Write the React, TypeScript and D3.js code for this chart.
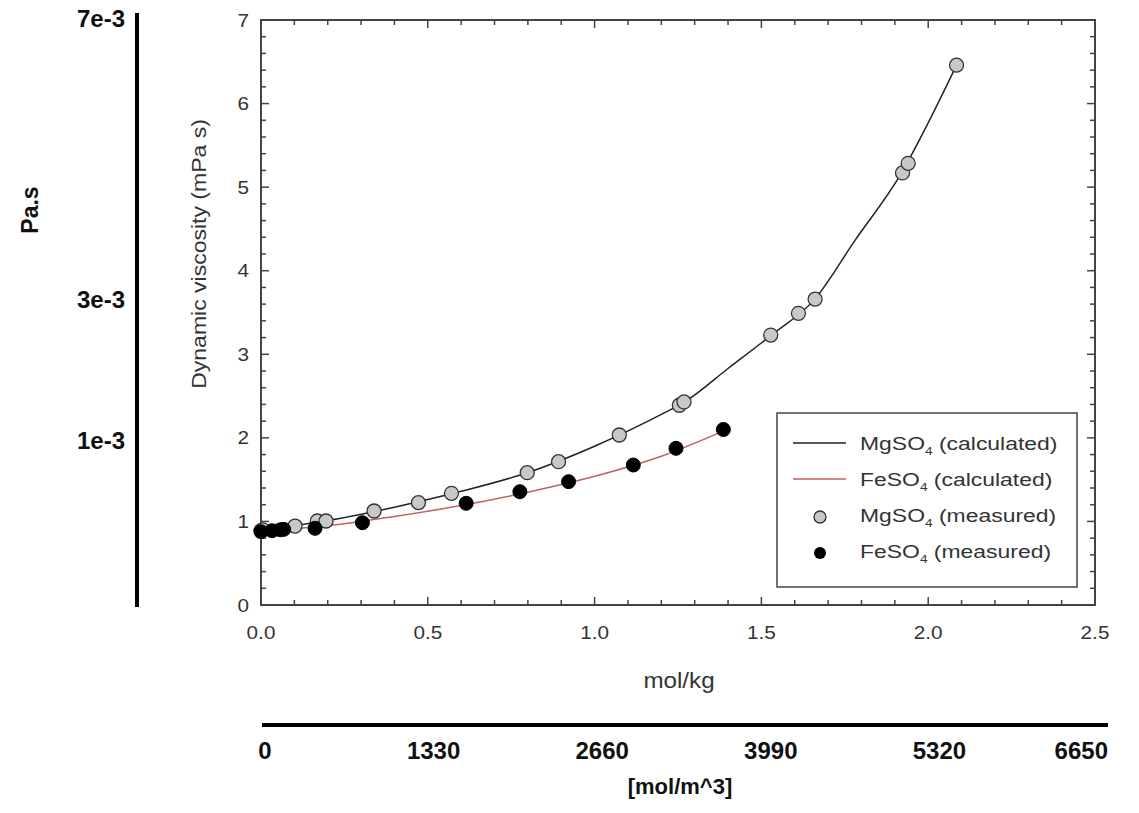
import React from "react";
import * as d3 from "d3";

// ---- data ----
const mgMeasuredM = [0.0, 0.005, 0.102, 0.169, 0.195, 0.339, 0.472, 0.571, 0.798, 0.892, 1.074, 1.254, 1.268, 1.528, 1.611, 1.661, 1.923, 1.94, 2.085];
const mgMeasuredV = [0.89, 0.9, 0.945, 1.005, 1.005, 1.125, 1.225, 1.336, 1.583, 1.715, 2.034, 2.39, 2.43, 3.23, 3.49, 3.66, 5.17, 5.285, 6.46];
const feMeasuredM = [0.0, 0.033, 0.058, 0.068, 0.162, 0.304, 0.615, 0.776, 0.922, 1.116, 1.244, 1.386];
const feMeasuredV = [0.877, 0.889, 0.9, 0.905, 0.918, 0.985, 1.217, 1.356, 1.476, 1.675, 1.875, 2.1];
const mgCalcM = [0, 0.1, 0.2, 0.4, 0.6, 0.8, 1.0, 1.2, 1.27, 1.4, 1.53, 1.66, 1.78, 1.92, 2.0, 2.085];
const mgCalcV = [0.89, 0.95, 1.01, 1.17, 1.36, 1.585, 1.9, 2.28, 2.43, 2.83, 3.23, 3.66, 4.36, 5.17, 5.77, 6.46];
const feCalcM = [0, 0.2, 0.4, 0.6, 0.8, 1.0, 1.2, 1.386];
const feCalcV = [0.88, 0.95, 1.06, 1.19, 1.35, 1.54, 1.78, 2.08];

const xTicks = [0, 0.5, 1.0, 1.5, 2.0, 2.5];
const yTicks = [0, 1, 2, 3, 4, 5, 6, 7];
const paTicks = [7e-3, 3e-3, 1e-3];
const paLabels = ["7e-3", "3e-3", "1e-3"];
const molM3Ticks = [0, 1330, 2660, 3990, 5320, 6650];
const legendItems = [
  { base: "MgSO", rest: " (calculated)", kind: "line", color: "#222" },
  { base: "FeSO", rest: " (calculated)", kind: "line", color: "#c06060" },
  { base: "MgSO", rest: " (measured)", kind: "gray" },
  { base: "FeSO", rest: " (measured)", kind: "black" },
];

const FONT = "'Liberation Sans', Arial, sans-serif";

type STProps = {
  x: number; y: number; s?: number; rot?: number; size: number; anchor?: string;
  bold?: boolean; fill?: string; children: React.ReactNode; dy?: string;
};
function ST({ x, y, s = 1, rot = 0, size, anchor = "start", bold = false, fill = "#333", children, dy }: STProps) {
  return (
    <text
      transform={`translate(${x},${y}) rotate(${rot}) scale(${s},1)`}
      textAnchor={anchor}
      fontFamily={FONT}
      fontWeight={bold ? "bold" : "normal"}
      fontSize={size}
      fill={fill}
      dy={dy}
    >
      {children}
    </text>
  );
}

export default function App() {
  const L = 261, R = 1095, T = 20, B = 605;
  const x = d3.scaleLinear().domain([0, 2.5]).range([L, R]);
  const y = d3.scaleLinear().domain([0, 7]).range([B, T]);
  const yPa = d3.scaleLinear().domain([0, 7e-3]).range([511, 18.5]);
  const xM3 = d3.scaleLinear().domain([0, 6650]).range([265, 1108]);

  const line = d3.line<[number, number]>().x(d => x(d[0])).y(d => y(d[1])).curve(d3.curveMonotoneX);
  const mgCalc = mgCalcM.map((m, i) => [m, mgCalcV[i]] as [number, number]);
  const feCalc = feCalcM.map((m, i) => [m, feCalcV[i]] as [number, number]);

  const xMinor = d3.range(0, 2.5001, 0.1);
  const yMinor = d3.range(0, 7.0001, 0.2);
  const isMajorX = (v: number) => Math.abs(v * 2 - Math.round(v * 2)) < 1e-6;
  const isMajorY = (v: number) => Math.abs(v - Math.round(v)) < 1e-6;

  const axisColor = "#444";
  const textColor = "#333";

  return (
    <svg width={1139} height={813} style={{ display: "block", position: "absolute", left: 0, top: 0 }}>
      <rect width={1139} height={813} fill="#fff" />

      {/* Pa.s secondary axis */}
      <ST x={38} y={210} rot={-90} size={23} anchor="middle" bold fill="#111">Pa.s</ST>
      <line x1={137} x2={137} y1={13} y2={607} stroke="#000" strokeWidth={4} />
      {paTicks.map((t, i) => (
        <ST key={i} x={125} y={yPa(t) + 8.5} size={24} anchor="end" bold fill="#111">{paLabels[i]}</ST>
      ))}

      {/* main y title */}
      <ST x={206} y={254} rot={-90} s={1.15} size={20} anchor="middle" fill={textColor}>Dynamic viscosity (mPa s)</ST>

      {/* ticks */}
      {xMinor.map((v, i) => {
        const len = isMajorX(v) ? 8 : 5;
        return (
          <g key={"xt" + i} stroke={axisColor} strokeWidth={1.5}>
            <line x1={x(v)} x2={x(v)} y1={B} y2={B - len} />
            <line x1={x(v)} x2={x(v)} y1={T} y2={T + len} />
          </g>
        );
      })}
      {yMinor.map((v, i) => {
        const len = isMajorY(v) ? 8 : 5;
        return (
          <g key={"yt" + i} stroke={axisColor} strokeWidth={1.5}>
            <line x1={L} x2={L + len} y1={y(v)} y2={y(v)} />
            <line x1={R} x2={R - len} y1={y(v)} y2={y(v)} />
          </g>
        );
      })}
      <rect x={L} y={T} width={R - L} height={B - T} fill="none" stroke={axisColor} strokeWidth={2} />

      {xTicks.map((t, i) => (
        <ST key={"xl" + i} x={x(t)} y={639} s={1.12} size={18.5} anchor="middle" fill={textColor}>{t.toFixed(1)}</ST>
      ))}
      {yTicks.map((t, i) => (
        <ST key={"yl" + i} x={249} y={y(t) + 6.5} s={1.12} size={18.5} anchor="end" fill={textColor}>{t}</ST>
      ))}
      <ST x={679} y={688} s={1.1} size={22} anchor="middle" fill={textColor}>mol/kg</ST>

      {/* curves */}
      <path d={line(feCalc) || ""} fill="none" stroke="#c06060" strokeWidth={1.5} />
      <path d={line(mgCalc) || ""} fill="none" stroke="#222" strokeWidth={1.5} />

      {/* points */}
      {mgMeasuredM.map((m, i) => (
        <circle key={"mg" + i} cx={x(m)} cy={y(mgMeasuredV[i])} r={7} fill="#c8c8c8" stroke="#333" strokeWidth={1.3} />
      ))}
      {feMeasuredM.map((m, i) => (
        <circle key={"fe" + i} cx={x(m)} cy={y(feMeasuredV[i])} r={7} fill="#000" stroke="#000" strokeWidth={1} />
      ))}

      {/* legend */}
      <rect x={777} y={413} width={300} height={174} fill="#fff" stroke={axisColor} strokeWidth={1.5} />
      {legendItems.map((it, i) => {
        const cy = 443 + i * 36;
        return (
          <g key={"lg" + i}>
            {it.kind === "line" && <line x1={793} x2={846} y1={cy} y2={cy} stroke={it.color} strokeWidth={1.5} />}
            {it.kind === "gray" && <circle cx={820} cy={cy + 2} r={6} fill="#c8c8c8" stroke="#333" strokeWidth={1.3} />}
            {it.kind === "black" && <circle cx={820} cy={cy + 2} r={6} fill="#000" />}
            <ST x={860} y={cy + 6.5} s={1.24} size={18.5} fill={textColor}>
              {it.base}
              <tspan fontSize={11} dy={5}>4</tspan>
              <tspan dy={-5}>{it.rest}</tspan>
            </ST>
          </g>
        );
      })}

      {/* mol/m^3 secondary axis */}
      <line x1={262} x2={1108} y1={725} y2={725} stroke="#000" strokeWidth={4} />
      {molM3Ticks.map((t, i) => (
        <ST key={"m3" + i} x={xM3(t)} y={759} size={24} anchor={i === molM3Ticks.length - 1 ? "end" : "middle"} bold fill="#111">{t}</ST>
      ))}
      <ST x={680} y={794} size={22} anchor="middle" bold fill="#111">[mol/m^3]</ST>
    </svg>
  );
}
